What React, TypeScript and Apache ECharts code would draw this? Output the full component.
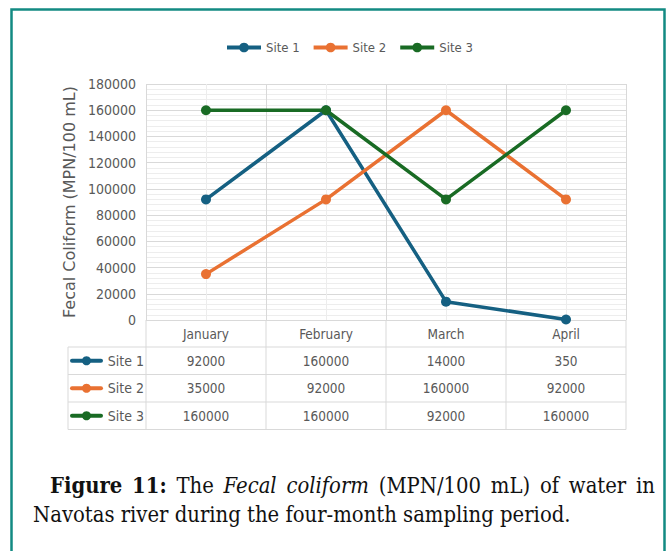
import React, { useEffect, useRef } from 'react';
import * as echarts from 'echarts';

const months = ['January', 'February', 'March', 'April'];
const site1 = [92000, 160000, 14000, 350];
const site2 = [35000, 92000, 160000, 92000];
const site3 = [160000, 160000, 92000, 160000];
const seriesNames = ['Site 1', 'Site 2', 'Site 3'];
const seriesColors = ['#156082', '#E97132', '#196B24'];
const yMin = 0;
const yMax = 180000;
const yInterval = 20000;
const yTitle = 'Fecal Coliform (MPN/100 mL)';

const captionLine1 = [
  { t: 'Figure', w: 'bold', s: 'normal' },
  { t: '11:', w: 'bold', s: 'normal' },
  { t: 'The', w: 'normal', s: 'normal' },
  { t: 'Fecal', w: 'normal', s: 'italic' },
  { t: 'coliform', w: 'normal', s: 'italic' },
  { t: '(MPN/100', w: 'normal', s: 'normal' },
  { t: 'mL)', w: 'normal', s: 'normal' },
  { t: 'of', w: 'normal', s: 'normal' },
  { t: 'water', w: 'normal', s: 'normal' },
  { t: 'in', w: 'normal', s: 'normal' },
];
const captionLine2 = 'Navotas river during the four-month sampling period.';

const NARROW = '"DejaVu Sans Condensed", "Liberation Sans Narrow", sans-serif';
const TITLE_FONT = '"DejaVu Sans", sans-serif';
const SERIF_NAME = 'DejaVu Serif Condensed';
const SERIF = '"DejaVu Serif Condensed", "Liberation Serif", serif';
const GREY = '#595959';

export default function App() {
  const ref = useRef<HTMLDivElement>(null);
  useEffect(() => {
    const el = ref.current;
    if (!el) return;
    const chart = echarts.init(el, null, { renderer: 'svg' });

    const gridLeft = 146;
    const gridTop = 84;
    const gridW = 480;
    const gridH = 236;
    const gridBottom = gridTop + gridH;
    const colW = gridW / months.length;
    const tableLeft = 68;
    const rowTops = [347, 374.5, 402, 429.5];
    const lineColor = '#d9d9d9';
    const data = [site1, site2, site3];

    const graphics: any[] = [];
    graphics.push({
      type: 'rect',
      shape: { x: 11.5, y: 9.5, width: 653, height: 600 },
      style: { fill: 'none', stroke: '#138a83', lineWidth: 2.5 },
      silent: true,
    });
    for (let i = 0; i <= months.length; i++) {
      const x = gridLeft + i * colW;
      graphics.push({
        type: 'line',
        shape: { x1: x, y1: gridBottom, x2: x, y2: rowTops[0] },
        style: { stroke: lineColor, lineWidth: 1 },
        silent: true,
      });
    }
    rowTops.forEach((y) => {
      graphics.push({
        type: 'line',
        shape: { x1: tableLeft, y1: y, x2: gridLeft + gridW, y2: y },
        style: { stroke: lineColor, lineWidth: 1 },
        silent: true,
      });
    });
    const vx = [tableLeft];
    for (let i = 0; i <= months.length; i++) vx.push(gridLeft + i * colW);
    vx.forEach((x) => {
      graphics.push({
        type: 'line',
        shape: { x1: x, y1: rowTops[0], x2: x, y2: rowTops[rowTops.length - 1] },
        style: { stroke: lineColor, lineWidth: 1 },
        silent: true,
      });
    });
    data.forEach((vals, r) => {
      const cy = (rowTops[r] + rowTops[r + 1]) / 2;
      graphics.push({
        type: 'line',
        shape: { x1: 72, y1: cy, x2: 101, y2: cy },
        style: { stroke: seriesColors[r], lineWidth: 4, lineCap: 'round' },
        silent: true,
      });
      graphics.push({
        type: 'circle',
        shape: { cx: 86.5, cy, r: 4.5 },
        style: { fill: seriesColors[r] },
        silent: true,
      });
      graphics.push({
        type: 'text',
        x: 144,
        y: cy,
        style: {
          text: seriesNames[r],
          fontSize: 14,
          fontFamily: NARROW,
          fill: GREY,
          align: 'right',
          verticalAlign: 'middle',
        },
        silent: true,
      });
      vals.forEach((v, c) => {
        graphics.push({
          type: 'text',
          x: gridLeft + (c + 0.5) * colW,
          y: cy,
          style: {
            text: String(v),
            fontSize: 13.5,
            fontFamily: NARROW,
            fill: GREY,
            align: 'center',
            verticalAlign: 'middle',
          },
          silent: true,
        });
      });
    });

    // caption
    const ctx = document.createElement('canvas').getContext('2d')!;
    const measure = (text: string, w: string, s: string, size: number) => {
      ctx.font = `${s} ${w} ${size}px "${SERIF_NAME}", "Liberation Serif", serif`;
      return ctx.measureText(text).width;
    };
    let fs = 20.5;
    const mRef = measure('Navotas river du', 'normal', 'normal', 20);
    if (mRef > 0) fs = Math.max(16, Math.min(24, (20 * 167) / mRef));
    const l1Left = 50;
    const l1Right = 655;
    const widths = captionLine1.map((wd) => measure(wd.t, wd.w, wd.s, fs));
    const total = widths.reduce((a, b) => a + b, 0);
    const gap = Math.max(3, (l1Right - l1Left - total) / (captionLine1.length - 1));
    let cx = l1Left;
    captionLine1.forEach((wd, i) => {
      graphics.push({
        type: 'text',
        x: cx,
        y: 485,
        style: {
          text: wd.t,
          fontSize: fs,
          fontFamily: SERIF,
          fontWeight: wd.w,
          fontStyle: wd.s,
          fill: '#111111',
          align: 'left',
          verticalAlign: 'middle',
        },
        silent: true,
      });
      cx += widths[i] + gap;
    });
    graphics.push({
      type: 'text',
      x: 33,
      y: 514,
      style: {
        text: captionLine2,
        fontSize: fs,
        fontFamily: SERIF,
        fill: '#111111',
        align: 'left',
        verticalAlign: 'middle',
      },
      silent: true,
    });

    const option: any = {
      animation: false,
      backgroundColor: '#ffffff',
      color: seriesColors,
      legend: {
        left: 220,
        top: 36,
        itemWidth: 34,
        itemHeight: 12,
        itemGap: 12,
        lineStyle: { width: 4 },
        textStyle: { fontSize: 13, fontFamily: NARROW, color: GREY },
        data: seriesNames,
      },
      grid: { left: gridLeft, top: gridTop, width: gridW, height: gridH, containLabel: false },
      xAxis: [
        {
          type: 'category',
          data: months,
          boundaryGap: true,
          axisLine: { show: false },
          axisTick: { show: false },
          splitLine: { show: false },
          axisLabel: { color: GREY, fontSize: 13.5, fontFamily: NARROW, margin: 7 },
        },
        {
          type: 'value',
          min: 0,
          max: months.length * 2,
          interval: 1,
          position: 'bottom',
          axisLine: { show: false },
          axisTick: { show: false },
          axisLabel: { show: false },
          splitLine: { show: true, lineStyle: { color: ['#d9d9d9', '#ededed'], width: 1 } },
        },
      ],
      yAxis: {
        type: 'value',
        min: yMin,
        max: yMax,
        interval: yInterval,
        name: yTitle,
        nameLocation: 'middle',
        nameGap: 58,
        nameTextStyle: { fontSize: 16, fontFamily: TITLE_FONT, color: GREY },
        axisLine: { show: false },
        axisTick: { show: false },
        axisLabel: {
          color: GREY,
          fontSize: 14,
          fontFamily: NARROW,
          margin: 10,
          formatter: (v: number) => String(v),
        },
        splitLine: { show: true, lineStyle: { color: '#d9d9d9', width: 1 } },
        minorTick: { show: false, splitNumber: 5 },
        minorSplitLine: { show: true, lineStyle: { color: '#ededed', width: 1 } },
      },
      series: data.map((vals, i) => ({
        name: seriesNames[i],
        type: 'line',
        xAxisIndex: 0,
        data: vals,
        symbol: 'circle',
        symbolSize: 10,
        lineStyle: { width: 3.5, color: seriesColors[i] },
        itemStyle: { color: seriesColors[i] },
      })),
      graphic: graphics,
    };
    chart.setOption(option);
    return () => chart.dispose();
  }, []);
  return (
    <div
      ref={ref}
      style={{ position: 'fixed', left: 0, top: 0, width: 667, height: 551, background: '#fff' }}
    />
  );
}
